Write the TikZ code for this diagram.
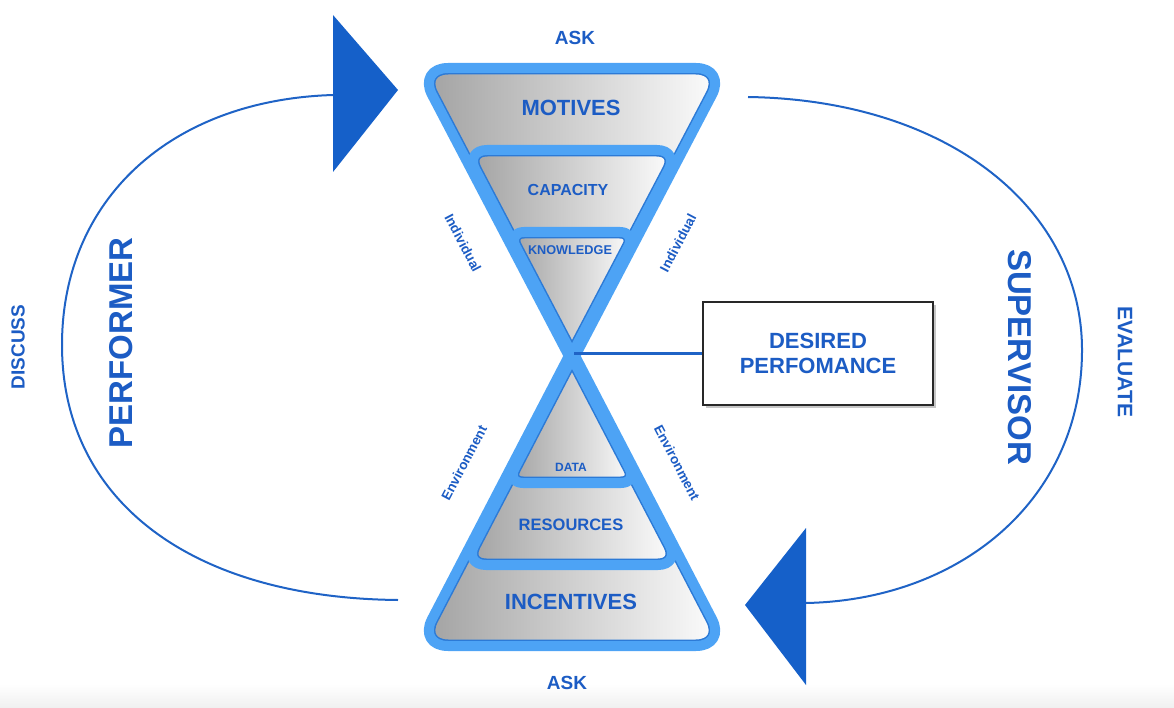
\documentclass[tikz,border=0pt]{standalone}
\usepackage{fontspec}
\setmainfont{Liberation Sans}
\usetikzlibrary{shadows}

\definecolor{textblue}{RGB}{28,92,196}
\definecolor{tipblue}{RGB}{21,96,201}
\definecolor{arcblue}{RGB}{31,99,198}
\definecolor{rimblue}{RGB}{77,163,245}
\definecolor{rimdark}{RGB}{44,122,214}
\definecolor{faceleft}{RGB}{160,160,160}
\definecolor{boxline}{RGB}{40,40,40}

% one layer of the glass: shaded face, dark inner edge, light rim
\newcommand{\glassface}[1]{%
  \shade[left color=faceleft,right color=white] #1;
  \begin{scope}
    \clip #1;
    \draw[rimdark,line width=13pt] #1;
  \end{scope}
  \draw[rim] #1;
}

\begin{document}
\begin{tikzpicture}[x=1pt,y=-1pt,
  word/.style={text=textblue,inner sep=0pt,font=\bfseries\fontsize{#1}{#1}\selectfont},
  rim/.style={draw=rimblue,line width=10pt,line join=round},
  loopline/.style={draw=arcblue,line width=2pt},
  link/.style={draw=arcblue,line width=3pt},
  goalbox/.style={draw=boxline,line width=1.6pt,fill=white,minimum width=230pt,
    minimum height=103pt,align=center,text=textblue,
    font=\bfseries\fontsize{22}{25}\selectfont,
    drop shadow={shadow xshift=3pt,shadow yshift=-3pt,opacity=.45}}]
  \useasboundingbox (0,0) rectangle (1174,708);
  \shade[top color=white,bottom color=black!6] (0,684) rectangle (1174,708);

  % upper glass
  \glassface{(418,68) [rounded corners=30pt] -- (726,68) [rounded corners=10pt]
    -- (572,362) [rounded corners=30pt] -- cycle}
  \glassface{(465,150) [rounded corners=22pt] -- (679,150) [rounded corners=8pt]
    -- (572,354) [rounded corners=22pt] -- cycle}
  \glassface{(508,232) [rounded corners=16pt] -- (636,232) [rounded corners=8pt]
    -- (572,354) [rounded corners=16pt] -- cycle}

  % lower glass
  \glassface{(418,646) [rounded corners=30pt] -- (726,646) [rounded corners=10pt]
    -- (572,350) [rounded corners=30pt] -- cycle}
  \glassface{(464,565) [rounded corners=22pt] -- (680,565) [rounded corners=8pt]
    -- (572,358) [rounded corners=22pt] -- cycle}
  \glassface{(507,483) [rounded corners=16pt] -- (637,483) [rounded corners=8pt]
    -- (572,358) [rounded corners=16pt] -- cycle}

  \node[word=22] (motives) at (571,108) {MOTIVES};
  \node[word=16] (capacity) at (568,190) {CAPACITY};
  \node[word=12.7] (knowledge) at (570,250) {KNOWLEDGE};
  \node[word=12] (data) at (571,467) {DATA};
  \node[word=16.5] (resources) at (571,525) {RESOURCES};
  \node[word=22] (incentives) at (571,602) {INCENTIVES};
  \node[word=19] (askTop) at (575,38) {ASK};
  \node[word=19] (askBottom) at (567,683) {ASK};

  \node[word=13.5,rotate=-62.3] (indivLeft) at (463,243) {Individual};
  \node[word=13.5,rotate=62.3] (indivRight) at (678,243) {Individual};
  \node[word=13.5,rotate=62.3] (envLeft) at (464,463) {Environment};
  \node[word=13.5,rotate=-62.3] (envRight) at (677,463) {Environment};

  \node[word=33,rotate=90] (performer) at (121,343) {PERFORMER};
  \node[word=19,rotate=90] (discuss) at (18,347) {DISCUSS};
  \node[word=33,rotate=-90] (supervisor) at (1020,357) {SUPERVISOR};
  \node[word=21,rotate=-90] (evaluate) at (1125,362) {EVALUATE};

  \node[goalbox] (goal) at (818,353.5) {DESIRED\\PERFOMANCE};
  \coordinate (waist) at (574,353.5);
  \draw[link] (waist) -- (goal.west);

  % feedback loops
  \coordinate (perfStart) at (333,95);
  \coordinate (perfEnd) at (398,600);
  \coordinate (supStart) at (748,97);
  \coordinate (supEnd) at (806,603);
  \draw[loopline] (perfStart) .. controls (170,100) and (62,200) .. (62,345)
    .. controls (62,500) and (190,598) .. (perfEnd);
  \draw[loopline] (supStart) .. controls (950,100) and (1082,210) .. (1082,350)
    .. controls (1082,500) and (960,600) .. (supEnd);
  \fill[tipblue] (333,15) -- (398,90) -- (333,172) -- cycle;
  \fill[tipblue] (806,528) -- (745,605) -- (806,685) -- cycle;
\end{tikzpicture}
\end{document}
